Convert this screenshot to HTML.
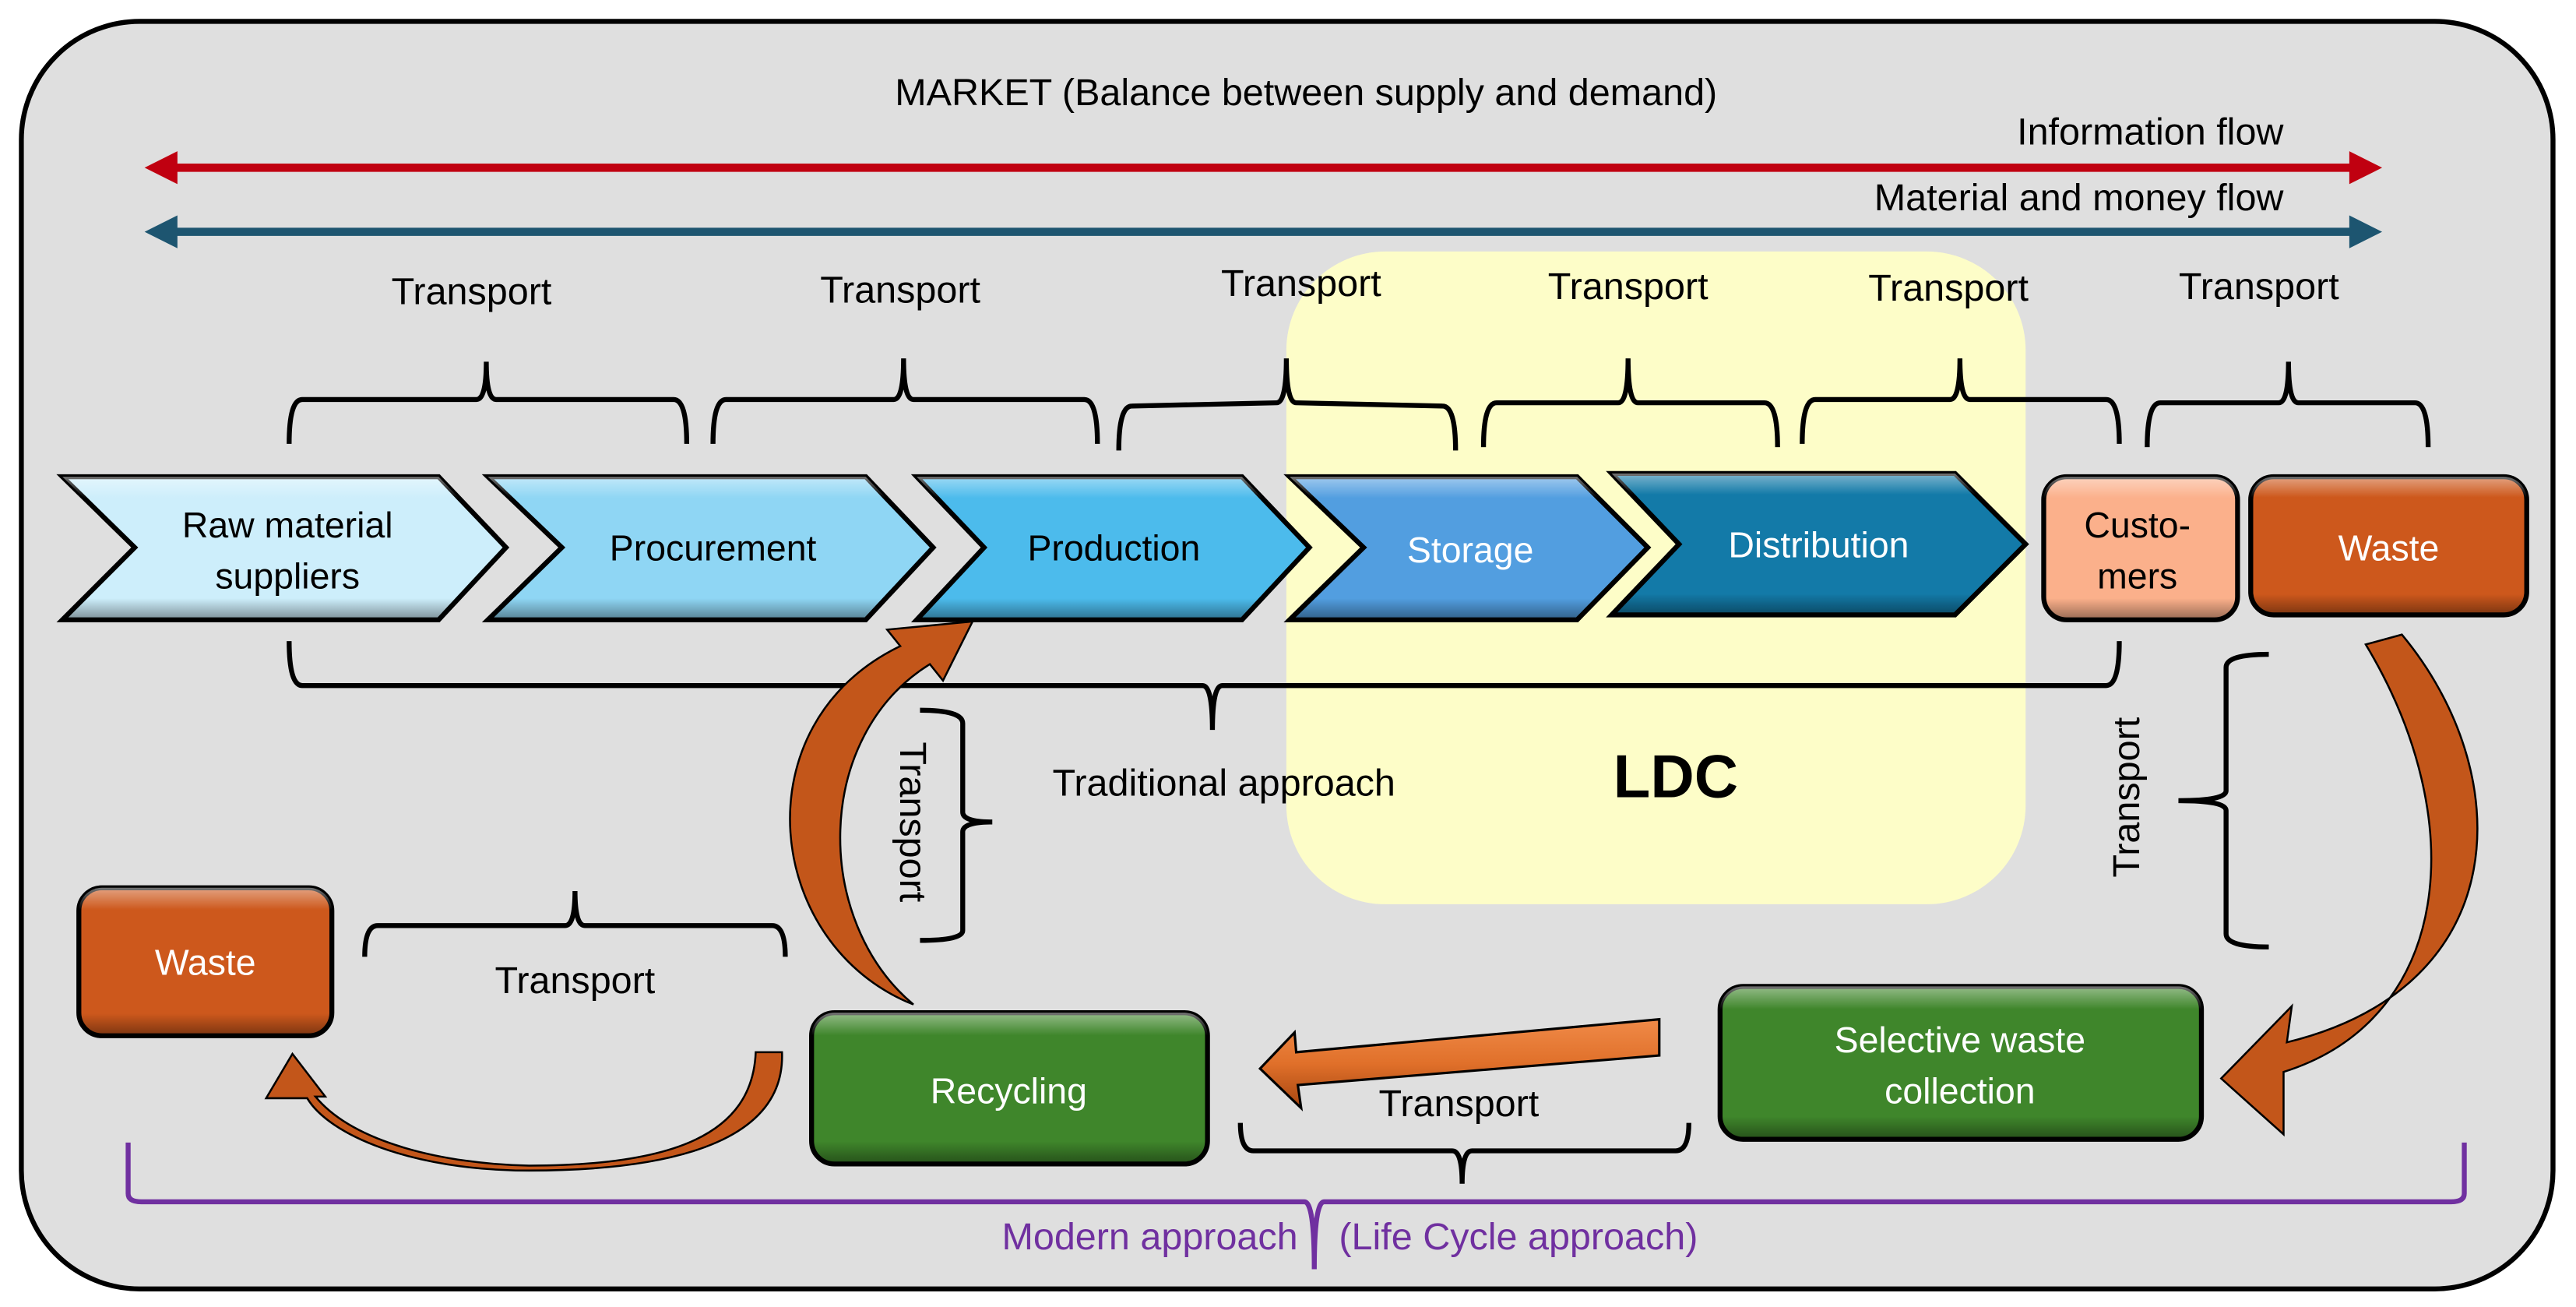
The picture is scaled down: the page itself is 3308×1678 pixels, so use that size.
<!DOCTYPE html>
<html><head><meta charset="utf-8"><style>
html,body{margin:0;padding:0;background:#fff;}
svg{display:block;}
text{font-family:"Liberation Sans",sans-serif;}
</style></head><body>
<svg width="3308" height="1678" viewBox="0 0 1568 795" preserveAspectRatio="none" xmlns="http://www.w3.org/2000/svg">
<defs>
<linearGradient id="sh" x1="0" y1="0" x2="0" y2="1">
<stop offset="0" stop-color="#fff" stop-opacity="0.45"/>
<stop offset="0.15" stop-color="#fff" stop-opacity="0"/>
<stop offset="0.85" stop-color="#000" stop-opacity="0"/>
<stop offset="1" stop-color="#000" stop-opacity="0.4"/>
</linearGradient>
<linearGradient id="ar" x1="0" y1="0" x2="0" y2="1">
<stop offset="0" stop-color="#f08a48"/><stop offset="0.5" stop-color="#e0702a"/><stop offset="1" stop-color="#a54510"/>
</linearGradient>
</defs>
<rect x="13" y="13" width="1541" height="771" rx="72" fill="#dfdfdf" stroke="#000" stroke-width="3"/>
<rect x="783" y="153" width="450" height="397" rx="60" fill="#fdfdc8"/>

<text x="795" y="64" font-size="23" text-anchor="middle">MARKET (Balance between supply and demand)</text>
<text x="1390" y="88" font-size="23" text-anchor="end">Information flow</text>
<text x="1390" y="128" font-size="23" text-anchor="end">Material and money flow</text>
<line x1="100" y1="102" x2="1438" y2="102" stroke="#c00010" stroke-width="5"/>
<polygon points="88,102 108,92 108,112" fill="#c00010"/>
<polygon points="1450,102 1430,92 1430,112" fill="#c00010"/>
<line x1="100" y1="141" x2="1438" y2="141" stroke="#1d5570" stroke-width="5"/>
<polygon points="88,141 108,131 108,151" fill="#1d5570"/>
<polygon points="1450,141 1430,131 1430,151" fill="#1d5570"/>

<g font-size="23" text-anchor="middle">
<text x="287" y="185">Transport</text>
<text x="548" y="184">Transport</text>
<text x="792" y="180">Transport</text>
<text x="991" y="182">Transport</text>
<text x="1186" y="183">Transport</text>
<text x="1375" y="182">Transport</text>
</g>
<g fill="none" stroke="#000" stroke-width="3">
<path d="M176,270 Q176,243 184,243 L290,243 Q296,243 296,220 Q296,243 302,243 L410,243 Q418,243 418,270"/>
<path d="M434,270 Q434,243 442,243 L544,243 Q550,243 550,218 Q550,243 556,243 L660,243 Q668,243 668,270"/>
<path d="M681,274 Q681,247 689,247 L777,245 Q783,245 783,218 Q783,245 789,245 L878,247 Q886,247 886,274"/>
<path d="M903,272 Q903,245 911,245 L985,245 Q991,245 991,218 Q991,245 997,245 L1074,245 Q1082,245 1082,272"/>
<path d="M1097,270 Q1097,243 1105,243 L1187,243 Q1193,243 1193,218 Q1193,243 1199,243 L1282,243 Q1290,243 1290,270"/>
<path d="M1307,272 Q1307,245 1315,245 L1387,245 Q1393,245 1393,220 Q1393,245 1399,245 L1470,245 Q1478,245 1478,272"/>
</g>

<g stroke="#000" stroke-width="3">
<polygon points="38,290 267,290 308,333 267,377 38,377 82,333" fill="#cdeefb"/>
<polygon points="297,290 527,290 568,333 527,377 297,377 342,333" fill="#8fd6f4"/>
<polygon points="558,290 756,290 797,333 756,377 558,377 599,333" fill="#4cbbec"/>
<polygon points="785,290 960,290 1003,333 960,377 785,377 830,333" fill="#529ee0"/>
<polygon points="981,288 1190,288 1233,331 1190,374 981,374 1022,331" fill="#137aa8"/>
<rect x="1244" y="290" width="118" height="87" rx="14" fill="#fbb08b"/>
<rect x="1370" y="290" width="168" height="84" rx="14" fill="#cd581c"/>
<rect x="48" y="540" width="154" height="90" rx="14" fill="#cd581c"/>
<rect x="494" y="616" width="241" height="92" rx="14" fill="#3f862b"/>
<rect x="1047" y="600" width="293" height="93" rx="14" fill="#3f862b"/>
</g>
<g fill="url(#sh)">
<polygon points="38,290 267,290 308,333 267,377 38,377 82,333"/>
<polygon points="297,290 527,290 568,333 527,377 297,377 342,333"/>
<polygon points="558,290 756,290 797,333 756,377 558,377 599,333"/>
<polygon points="785,290 960,290 1003,333 960,377 785,377 830,333"/>
<polygon points="981,288 1190,288 1233,331 1190,374 981,374 1022,331"/>
<rect x="1244" y="290" width="118" height="87" rx="14"/>
<rect x="1370" y="290" width="168" height="84" rx="14"/>
<rect x="48" y="540" width="154" height="90" rx="14"/>
<rect x="494" y="616" width="241" height="92" rx="14"/>
<rect x="1047" y="600" width="293" height="93" rx="14"/>
</g>
<g font-size="22" text-anchor="middle">
<text x="175" y="327">Raw material</text>
<text x="175" y="358">suppliers</text>
<text x="434" y="341">Procurement</text>
<text x="678" y="341">Production</text>
<text x="895" y="342" fill="#fff">Storage</text>
<text x="1107" y="339" fill="#fff">Distribution</text>
<text x="1301" y="327">Custo-</text>
<text x="1301" y="358">mers</text>
<text x="1454" y="341" fill="#fff">Waste</text>
<text x="125" y="593" fill="#fff">Waste</text>
<text x="614" y="671" fill="#fff">Recycling</text>
<text x="1193" y="640" fill="#fff">Selective waste</text>
<text x="1193" y="671" fill="#fff">collection</text>
</g>

<g fill="none" stroke="#000" stroke-width="3">
<path d="M176,390 Q176,417 184,417 L732,417 Q738,417 738,444 Q738,417 744,417 L1282,417 Q1290,417 1290,390"/>
<path d="M560,432 Q586,432 586,440 L586,494 Q586,500 604,500 Q586,500 586,506 L586,566 Q586,572 560,572"/>
<path d="M1381,398 Q1355,398 1355,406 L1355,481 Q1355,487 1326,487 Q1355,487 1355,493 L1355,568 Q1355,576 1381,576"/>
<path d="M222,582 Q222,563 230,563 L344,563 Q350,563 350,542 Q350,563 356,563 L470,563 Q478,563 478,582"/>
<path d="M755,683 Q755,700 763,700 L884,700 Q890,700 890,720 Q890,700 896,700 L1020,700 Q1028,700 1028,683"/>
</g>
<path d="M78,695 L78,726 Q78,731 86,731 L794,731 Q800,731 800,772 Q800,731 806,731 L1492,731 Q1500,731 1500,726 L1500,695" fill="none" stroke="#7030a0" stroke-width="3"/>

<text x="745" y="484" font-size="23" text-anchor="middle">Traditional approach</text>
<text x="1020" y="485" font-size="37" font-weight="bold" text-anchor="middle">LDC</text>
<text x="350" y="604" font-size="23" text-anchor="middle">Transport</text>
<text x="888" y="679" font-size="23" text-anchor="middle">Transport</text>
<text transform="translate(548,500) rotate(90)" font-size="23" text-anchor="middle">Transport</text>
<text transform="translate(1302,485) rotate(-90)" font-size="23" text-anchor="middle">Transport</text>
<text x="790" y="760" font-size="23" fill="#7030a0" text-anchor="end">Modern approach</text>
<text x="815" y="760" font-size="23" fill="#7030a0">(Life Cycle approach)</text>

<g fill="#c3561a" stroke="#000" stroke-width="1.2">
<path d="M476,640 C478,690 420,712 322,712 C250,712 200,690 187,668 L162,668 L178,641 L198,667 L192,667 C215,695 270,708 322,709 C410,709 458,690 460,640 Z"/>
<path d="M556,611 C465,575 450,440 548,393 L540,383 L592,378 L574,414 L566,404 C495,448 495,560 556,611 Z"/>
<path d="M1440,392 L1462,386 C1532,470 1532,600 1392,634 L1395,612 L1352,656 L1390,690 L1390,652 C1492,620 1505,500 1440,392 Z"/>
</g>
<polygon points="1010,620 1010,642 790,660 792,674 767,650 788,628 789,640" fill="url(#ar)" stroke="#000" stroke-width="1.5"/>
</svg>
</body></html>
